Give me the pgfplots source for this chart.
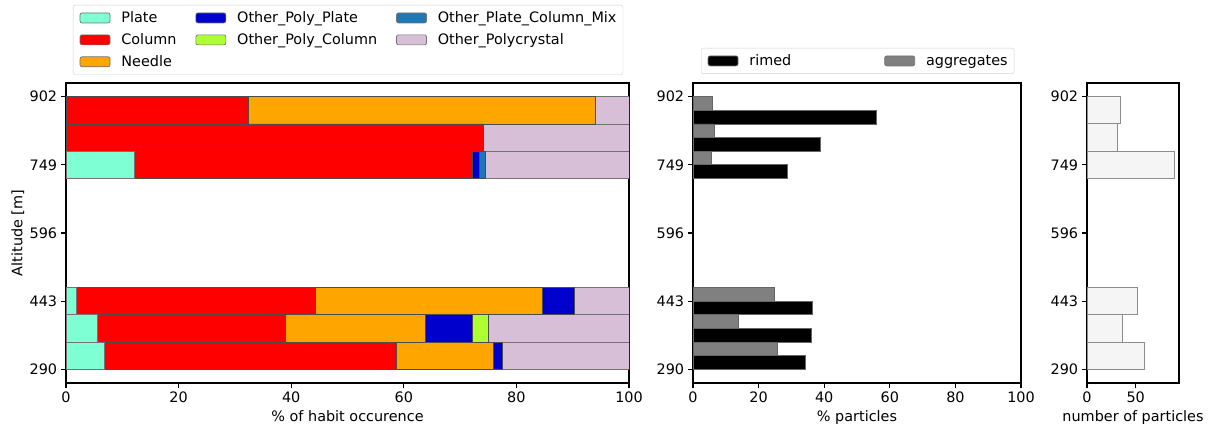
\documentclass[border=0pt]{standalone}
\usepackage{fontspec}
\setmainfont{DejaVu Sans}
\usepackage{pgfplots}
\pgfplotsset{compat=1.18}
\usepackage{pgfplotstable}

\definecolor{cPlate}{HTML}{7FFFD4}
\definecolor{cColumn}{HTML}{FF0000}
\definecolor{cNeedle}{HTML}{FFA500}
\definecolor{cOPP}{HTML}{0000CD}
\definecolor{cOPC}{HTML}{ADFF2F}
\definecolor{cOPCM}{HTML}{1F77B4}
\definecolor{cPoly}{HTML}{D8BFD8}
\definecolor{cAgg}{HTML}{808080}
\definecolor{cSmoke}{HTML}{F5F5F5}

\newcommand\fs{\fontsize{14.4pt}{16.5pt}\selectfont}

% altitude bin centre, % of habit occurrence
\pgfplotstableread{
y     plate column needle opp  opc  opcm poly
320.6 6.90  51.72  17.24  1.72 0    0    22.42
381.8 5.56  33.33  25.00  8.33 2.78 0    25.00
443.0 1.92  42.31  40.38  5.77 0    0    9.62
749.0 12.22 60.00  0      1.11 0    1.11 25.56
810.2 0     74.19  0      0    0    0    25.81
871.4 0     32.35  61.76  0    0    0    5.89
}\habit

% altitude bin centre, % rimed, % aggregates, number of particles
\pgfplotstableread{
y     rimed agg  n
320.6 34.1  25.6 59
381.8 36.1  13.9 36
443.0 36.3  24.8 52
749.0 28.9  5.6  90
810.2 38.7  6.5  31
871.4 55.9  5.9  34
}\parts

\pgfplotsset{
  base/.style={
    scale only axis, height=300pt,
    ymin=259.4, ymax=932.6,
    ytick={290,443,596,749,902},
    tick align=outside, tick pos=left,
    major tick length=4.9pt,
    every tick/.style={black, line width=1.1pt},
    axis line style={black, line width=1.1pt},
    /pgf/number format/assume math mode=true,
    tick label style={font=\fs},
    label style={font=\fs},
    xticklabel style={anchor=north, inner sep=0pt, yshift=-3.8pt},
    yticklabel style={anchor=east, inner sep=0pt, xshift=-3.8pt},
    xlabel style={at={(axis description cs:0.5,-0.1267)}, anchor=base, inner sep=0pt},
    legend cell align=left,
  },
  patch/.style={legend image code/.code={\draw[##1, line width=0.7pt] (0pt,-5pt) rectangle (30pt,5pt);}},
}

\begin{document}
\begin{tikzpicture}
\useasboundingbox (0,0) rectangle (1212pt,427pt);

% ---------------- left: habits ----------------
\begin{axis}[base,
  at={(66pt,44pt)}, anchor=south west, width=563pt,
  xmin=0, xmax=100, xtick={0,20,40,60,80,100},
  xbar stacked, bar width=61.2,
  xlabel={\% of habit occurence},
  ylabel={Altitude [m]},
  ylabel style={at={(axis description cs:-0.0853,0.5)}, anchor=center, inner sep=0pt},
  legend columns=3,
  legend style={at={(axis description cs:0.0124,1.26)}, anchor=north west,
    draw=black!18, rounded corners=2pt, fill=white, inner sep=6.5pt, font=\fs,
    row sep=9.5pt,
    nodes={inner sep=0pt},
    /tikz/every odd column/.append style={column sep=11pt},
    /tikz/every even column/.append style={column sep=19pt}},
]
\addlegendimage{patch, fill=cPlate, draw=black!55}\addlegendentry{Plate}
\addlegendimage{patch, fill=cOPP, draw=black!55}\addlegendentry{Other\_Poly\_Plate}
\addlegendimage{patch, fill=cOPCM, draw=black!55}\addlegendentry{Other\_Plate\_Column\_Mix}
\addlegendimage{patch, fill=cColumn, draw=black!55}\addlegendentry{Column}
\addlegendimage{patch, fill=cOPC, draw=black!55}\addlegendentry{Other\_Poly\_Column}
\addlegendimage{patch, fill=cPoly, draw=black!55}\addlegendentry{Other\_Polycrystal}
\addlegendimage{patch, fill=cNeedle, draw=black!55}\addlegendentry{Needle}

\addplot[fill=cPlate, draw=black!55, line width=0.7pt] table[x=plate, y=y]{\habit};
\addplot[fill=cColumn, draw=black!70, line width=0.7pt] table[x=column, y=y]{\habit};
\addplot[fill=cNeedle, draw=black!70, line width=0.7pt] table[x=needle, y=y]{\habit};
\addplot[fill=cOPP, draw=black!70, line width=0.7pt] table[x=opp, y=y]{\habit};
\addplot[fill=cOPC, draw=black!70, line width=0.7pt] table[x=opc, y=y]{\habit};
\addplot[fill=cOPCM, draw=black!70, line width=0.7pt] table[x=opcm, y=y]{\habit};
\addplot[fill=cPoly, draw=black!55, line width=0.7pt] table[x=poly, y=y]{\habit};
\end{axis}

% ---------------- middle: rimed / aggregates ----------------
\begin{axis}[base,
  at={(693pt,44pt)}, anchor=south west, width=328pt,
  xmin=0, xmax=100, xtick={0,20,40,60,80,100},
  xlabel={\% particles},
  legend columns=2,
  legend style={at={(axis description cs:0.0244,1.1167)}, anchor=north west,
    draw=black!18, rounded corners=2pt, fill=white, inner sep=6.5pt, font=\fs,
    nodes={inner sep=0pt},
    /tikz/every odd column/.append style={column sep=11pt},
    /tikz/every even column/.append style={column sep=93pt}},
]
\addlegendimage{patch, fill=black, draw=black!55}\addlegendentry{rimed}
\addlegendimage{patch, fill=cAgg, draw=black!55}\addlegendentry{aggregates}
\addplot[xbar, bar width=30.6, bar shift=-15.3, fill=black, draw=black!60, line width=0.7pt] table[x=rimed, y=y]{\parts};
\addplot[xbar, bar width=30.6, bar shift=15.3, fill=cAgg, draw=black!60, line width=0.7pt] table[x=agg, y=y]{\parts};
\end{axis}

% ---------------- right: number of particles ----------------
\begin{axis}[base,
  at={(1087pt,44pt)}, anchor=south west, width=92pt,
  xmin=0, xmax=94.5, xtick={0,50},
  xlabel={number of particles},
]
\addplot[xbar, bar width=61.2, bar shift=0, fill=cSmoke, draw=black!45, line width=0.9pt] table[x=n, y=y]{\parts};
\end{axis}
\end{tikzpicture}
\end{document}
